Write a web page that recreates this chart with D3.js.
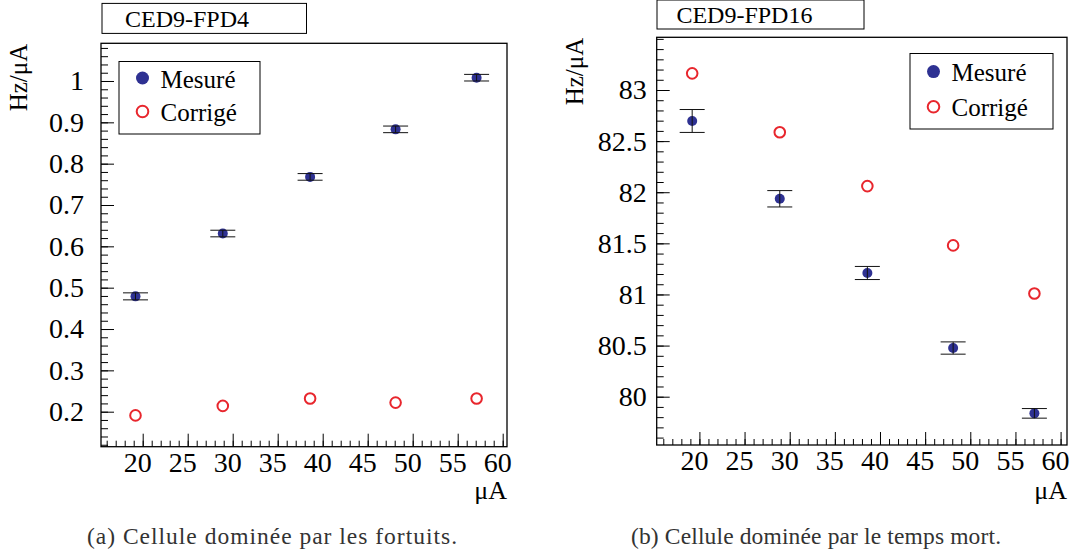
<!DOCTYPE html>
<html>
<head>
<meta charset="utf-8">
<script src="https://cdn.jsdelivr.net/npm/d3@7"></script>
<style>
body { margin: 0; background: #fff; }
</style>
</head>
<body>
<svg id="chart" width="1075" height="555"></svg>
<script>
// beam current (µA), same for both cells
const currents = [19.2, 28.9, 38.6, 48.1, 57.1]

// CED9-FPD4 : cell dominated by accidentals
const fpd4Measured = [0.479, 0.631, 0.768, 0.883, 1.008]
const fpd4Errors = [0.0085, 0.008, 0.008, 0.008, 0.008]
const fpd4Corrected = [0.191, 0.214, 0.232, 0.222, 0.232]

// CED9-FPD16 : cell dominated by dead time
const fpd16Measured = [82.697, 81.936, 81.21, 80.476, 79.837]
const fpd16Errors = [0.112, 0.08, 0.064, 0.06, 0.047]
const fpd16Corrected = [83.163, 82.586, 82.06, 81.48, 81.01]

const xTicks = [20, 25, 30, 35, 40, 45, 50, 55, 60]
const fpd4YTicks = [0.2, 0.3, 0.4, 0.5, 0.6, 0.7, 0.8, 0.9, 1]
const fpd16YTicks = [80, 80.5, 81, 81.5, 82, 82.5, 83]

const legendLabels = ["Mesuré", "Corrigé"]

const blue = "#2e3192"
const red = "#e8262d"
const serif = '"Liberation Serif", Times, serif'

const panels = [
    {
        title: "CED9-FPD4",
        caption: "(a) Cellule dominée par les fortuits.",
        measured: fpd4Measured, errors: fpd4Errors, corrected: fpd4Corrected,
        yTicks: fpd4YTicks, yMinor: d3.range(0.12, 1.09, 0.02),
        xDomain: [15.367, 60.478], yDomain: [0.1153, 1.0912],
        frame: {x: 101, y: 43.3, w: 406, h: 403.4},
        titleBox: {x: 102, y: 3.4, w: 204.5, h: 30, tx: 125, ty: 27},
        legend: {x: 119, y: 61.5, w: 141, h: 72.5, m1: 78, m2: 111.5},
        yPad: 17,
        captionX: 272
    },
    {
        title: "CED9-FPD16",
        caption: "(b) Cellule dominée par le temps mort.",
        measured: fpd16Measured, errors: fpd16Errors, corrected: fpd16Corrected,
        yTicks: fpd16YTicks, yMinor: d3.range(79.6, 83.55, 0.1),
        xDomain: [15.27, 60.71], yDomain: [79.5275, 83.5155],
        frame: {x: 656.7, y: 37.3, w: 410.3, h: 407.7},
        titleBox: {x: 657, y: 0, w: 207, h: 29, tx: 676.4, ty: 23},
        legend: {x: 910, y: 53.5, w: 143, h: 75.5, m1: 71.6, m2: 106.8},
        yPad: 10,
        captionX: 816
    }
]

const svg = d3.select("#chart")

panels.forEach(p => drawPanel(p))

svg.selectAll("text").style("font-family", serif)

function styleAxis(g, size) {
    g.select(".domain").remove()
    g.attr("font-size", size).attr("font-family", null)
    g.selectAll(".tick line").attr("stroke", "#000").attr("stroke-width", 1)
    g.selectAll(".tick text").attr("fill", "#000")
}

function drawPanel(p) {
    const f = p.frame

    // title box above the frame
    svg.append("rect")
        .attr("x", p.titleBox.x).attr("y", p.titleBox.y)
        .attr("width", p.titleBox.w).attr("height", p.titleBox.h)
        .attr("fill", "#fff").attr("stroke", "#000").attr("stroke-width", 1)
    svg.append("text")
        .attr("x", p.titleBox.tx).attr("y", p.titleBox.ty)
        .attr("font-size", 24)
        .text(p.title)

    const g = svg.append("g").attr("transform", `translate(${f.x},${f.y})`)

    const x = d3.scaleLinear().domain(p.xDomain).range([0, f.w])
    const y = d3.scaleLinear().domain(p.yDomain).range([f.h, 0])

    // y axis: minor then major ticks, drawn inward
    g.append("g")
        .call(d3.axisLeft(y).tickValues(p.yMinor).tickSize(-7).tickFormat(""))
        .call(a => styleAxis(a, 28))
    g.append("g")
        .call(d3.axisLeft(y).tickValues(p.yTicks).tickSize(-13).tickPadding(p.yPad).tickFormat(d3.format("")))
        .call(a => styleAxis(a, 28))

    // x axis
    g.append("g")
        .attr("transform", `translate(0,${f.h})`)
        .call(d3.axisBottom(x).tickValues(d3.range(16, 61, 1)).tickSize(-6).tickFormat(""))
        .call(a => styleAxis(a, 28))
    g.append("g")
        .attr("transform", `translate(0,${f.h})`)
        .call(d3.axisBottom(x).tickValues(xTicks).tickSize(-13).tickPadding(5).tickFormat(d3.format("")))
        .call(a => styleAxis(a, 28))
        .call(a => a.selectAll(".tick text").attr("dx", -5.5))

    g.append("rect")
        .attr("width", f.w).attr("height", f.h)
        .attr("fill", "none").attr("stroke", "#000").attr("stroke-width", 1.3)

    // axis titles
    g.append("text")
        .attr("text-anchor", "end")
        .attr("transform", `translate(-74,0.5) rotate(-90)`)
        .attr("font-size", 25)
        .text("Hz/μA")
    g.append("text")
        .attr("text-anchor", "end")
        .attr("x", f.w).attr("y", 499 - f.y)
        .attr("font-size", 26)
        .text("μA")

    const pts = currents.map((c, i) => ({c: c, m: p.measured[i], e: p.errors[i], k: p.corrected[i]}))

    // corrected values: open red circles
    g.selectAll(".corr").data(pts)
        .join("circle")
        .attr("class", "corr")
        .attr("cx", d => x(d.c)).attr("cy", d => y(d.k))
        .attr("r", 5.3).attr("fill", "none")
        .attr("stroke", red).attr("stroke-width", 2)

    // measured values with error bars
    g.selectAll(".meas").data(pts)
        .join("circle")
        .attr("class", "meas")
        .attr("cx", d => x(d.c)).attr("cy", d => y(d.m))
        .attr("r", 5).attr("fill", blue)

    const bars = g.selectAll(".err").data(pts).join("g").attr("class", "err")
        .attr("stroke", "#111").attr("stroke-width", 1)
    bars.append("line")
        .attr("x1", d => x(d.c)).attr("x2", d => x(d.c))
        .attr("y1", d => y(d.m - d.e)).attr("y2", d => y(d.m + d.e))
    bars.append("line")
        .attr("x1", d => x(d.c) - 12.5).attr("x2", d => x(d.c) + 12.5)
        .attr("y1", d => y(d.m - d.e)).attr("y2", d => y(d.m - d.e))
    bars.append("line")
        .attr("x1", d => x(d.c) - 12.5).attr("x2", d => x(d.c) + 12.5)
        .attr("y1", d => y(d.m + d.e)).attr("y2", d => y(d.m + d.e))

    // legend
    const L = p.legend
    svg.append("rect")
        .attr("x", L.x).attr("y", L.y).attr("width", L.w).attr("height", L.h)
        .attr("fill", "#fff").attr("stroke", "#000").attr("stroke-width", 1)
    svg.append("circle")
        .attr("cx", L.x + 23.5).attr("cy", L.m1).attr("r", 6.5).attr("fill", blue)
    svg.append("circle")
        .attr("cx", L.x + 23.5).attr("cy", L.m2).attr("r", 5.8)
        .attr("fill", "none").attr("stroke", red).attr("stroke-width", 2)
    svg.selectAll(null).data(legendLabels).enter()
        .append("text")
        .attr("x", L.x + 41.5)
        .attr("y", (d, i) => (i ? L.m2 : L.m1) + 9.5)
        .attr("font-size", 25)
        .text(d => d)

    // sub-figure caption (LaTeX style, a little looser than Times)
    svg.append("text")
        .attr("text-anchor", "middle")
        .attr("x", p.captionX).attr("y", 544)
        .attr("font-size", 23.5)
        .attr("fill", "#333")
        .attr("textLength", 370)
        .attr("lengthAdjust", "spacing")
        .text(p.caption)
}
</script>
</body>
</html>
